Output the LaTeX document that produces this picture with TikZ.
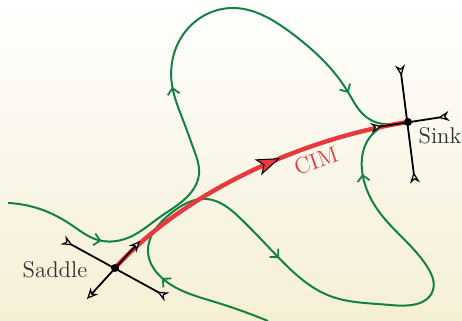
\documentclass[tikz,border=0pt]{standalone}
\usepackage{xcolor}
\usepackage{tikz}
\usetikzlibrary{arrows.meta,decorations.markings,hobby}
\definecolor{cimred}{RGB}{232,58,62}
\definecolor{flowgreen}{RGB}{18,130,66}
\definecolor{bgcream}{RGB}{245,239,212}
\definecolor{labelgray}{RGB}{50,50,50}
\tikzset{
  fbarb/.tip={Straight Barb[length=3pt, width=6pt, line width=0.9pt]},
  sout/.tip={Stealth[length=5.5pt, width=5pt, inset=1.8pt, fill=black!8, line width=0.6pt]},
  sin/.tip={Stealth[length=5.5pt, width=5pt, inset=1.8pt, fill=black!8, line width=0.6pt, reversed]},
  cimtip/.tip={Stealth[length=12pt, width=8.5pt, inset=3pt, color=black, fill=cimred, line width=0.5pt]},
  flow/.style={line width=1pt, draw=flowgreen, use Hobby shortcut},
  flowmarks/.style n args={3}{decoration={markings,
      mark=at position #1 with {\arrow{fbarb}},
      mark=at position #2 with {\arrow{fbarb}},
      mark=at position #3 with {\arrow{fbarb}}}, postaction={decorate}},
  cim/.style={line width=2.2pt, draw=cimred, decoration={markings,
      mark=at position 0.6 with {\arrow{cimtip}}}, postaction={decorate}},
  manifold/.style={line width=0.9pt, draw=black},
  fixedpt/.style={circle, fill=black, inner sep=0pt, minimum size=4pt},
  ptlabel/.style={text=labelgray, inner sep=1pt},
  cimlabel/.style={text=cimred, inner sep=1pt}
}
\begin{document}
\begin{tikzpicture}[x=0.5pt, y=-0.5pt, font=\fontsize{11.4}{13}\selectfont]
% background
\shade[top color=white, bottom color=bgcream] (0,0) rectangle (462,321);
\useasboundingbox (0,0) rectangle (462,321);
\clip (0,0) rectangle (462,321);

% fixed points and eigendirections
\coordinate (saddle) at (115,268);
\coordinate (sink) at (408,122);
\coordinate (s1) at (63,240);
\coordinate (s2) at (167,297);
\coordinate (u1) at (140,241);
\coordinate (u2) at (87,299);
\coordinate (k1) at (400,65);
\coordinate (k2) at (415,183);
\coordinate (k3) at (371,128);
\coordinate (k4) at (449,116);

% trajectories
\draw[flow, flowmarks={0.16}{0.5}{0.91}] (8,203) .. (40,209) .. (70,224)
  .. (98,240) .. (130,237) .. (160,217) .. (187,197) .. (199,174) .. (194,150)
  .. (183,120) .. (172,85) .. (185,32) .. (233,8) .. (290,32) .. (348,92)
  .. (365,116) .. (392,124);
\draw[flow, flowmarks={0.163}{0.463}{0.908}] (268,321) .. (215,302) .. (162,278)
  .. (148,252) .. (170,214) .. (207,199) .. (240,218) .. (278,257) .. (330,296)
  .. (390,305) .. (433,290) .. (428,268) .. (380,213) .. (362,170) .. (370,137)
  .. (392,124);

% connecting orbit
\draw[cim] (saddle) .. controls (182,194) and (299,139) .. (sink);
\node[cimlabel, rotate=19] (cimtext) at (316,161) {CIM};

% manifolds
\draw[manifold, sin-sin] (s1) -- (s2);
\draw[manifold, sout-sout] (u2) -- (u1);
\draw[manifold, sin-sin] (k1) -- (k2);
\draw[manifold, sin-sin] (k3) -- (k4);
\node[fixedpt] (saddledot) at (saddle) {};
\node[fixedpt] (sinkdot) at (sink) {};

\node[ptlabel] (saddlelabel) at (55,270) {Saddle};
\node[ptlabel] (sinklabel) at (440,136) {Sink};
\end{tikzpicture}
\end{document}
